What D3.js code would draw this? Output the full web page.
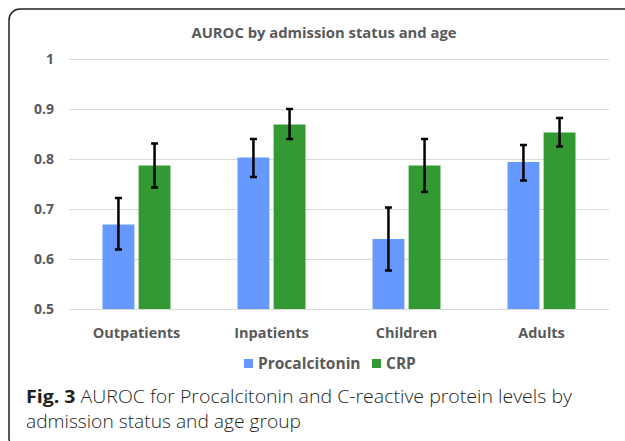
<!DOCTYPE html>
<html>
<head>
<meta charset="utf-8">
<script src="https://cdn.jsdelivr.net/npm/d3@7"></script>
<style>
  body { margin: 0; background: #fff; }
  svg text { font-family: "Open Sans", sans-serif; }
</style>
</head>
<body>
<svg id="chart" width="625" height="441"></svg>
<script>
const categories = ["Outpatients", "Inpatients", "Children", "Adults"];
const seriesNames = ["Procalcitonin", "CRP"];
const seriesColors = ["#6699ff", "#339933"];
const pctValues = [0.669, 0.803, 0.640, 0.794];
const pctLow = [0.619, 0.764, 0.577, 0.757];
const pctHigh = [0.722, 0.840, 0.703, 0.828];
const crpValues = [0.787, 0.869, 0.787, 0.853];
const crpLow = [0.743, 0.840, 0.734, 0.825];
const crpHigh = [0.831, 0.900, 0.840, 0.882];
const yTicks = [0.5, 0.6, 0.7, 0.8, 0.9, 1];
const yTickLabels = ["0.5", "0.6", "0.7", "0.8", "0.9", "1"];

const svg = d3.select("#chart");
const grey = "#595959";

// outer rounded frame (right side runs off the page)
svg.append("rect")
    .attr("x", 9).attr("y", 9)
    .attr("width", 700).attr("height", 440)
    .attr("rx", 11)
    .attr("fill", "none")
    .attr("stroke", "#222")
    .attr("stroke-width", 1.5);

const x0 = d3.scaleBand().domain(categories).range([69, 609]);
const x1 = d3.scaleBand().domain(seriesNames).range([0, 68]).paddingInner(8 / 68);
const y = d3.scaleLinear().domain([0.5, 1]).range([309, 59]);

// gridlines
svg.append("g").selectAll("line")
    .data(yTicks)
    .join("line")
    .attr("x1", 69).attr("x2", 609)
    .attr("y1", d => Math.round(y(d)) + 0.5)
    .attr("y2", d => Math.round(y(d)) + 0.5)
    .attr("stroke", "#d9d9d9")
    .attr("stroke-width", 1);

// y labels
svg.append("g").selectAll("text")
    .data(yTicks)
    .join("text")
    .attr("x", 54)
    .attr("y", d => y(d) + 5)
    .attr("text-anchor", "end")
    .attr("fill", grey)
    .attr("font-weight", 700)
    .attr("font-size", 14)
    .text((d, i) => yTickLabels[i]);

const rows = categories.map((c, i) => ({
    cat: c,
    bars: [
        { s: seriesNames[0], v: pctValues[i], lo: pctLow[i], hi: pctHigh[i] },
        { s: seriesNames[1], v: crpValues[i], lo: crpLow[i], hi: crpHigh[i] }
    ]
}));

const groups = svg.append("g").selectAll("g")
    .data(rows)
    .join("g")
    .attr("transform", d => `translate(${x0(d.cat) + (x0.bandwidth() - 68) / 2},0)`);

groups.selectAll("rect")
    .data(d => d.bars)
    .join("rect")
    .attr("x", d => x1(d.s))
    .attr("width", x1.bandwidth())
    .attr("y", d => y(d.v))
    .attr("height", d => y(0.5) - y(d.v))
    .attr("fill", (d, i) => seriesColors[i]);

// error bars
const err = groups.selectAll("g.err")
    .data(d => d.bars)
    .join("g")
    .attr("class", "err")
    .attr("transform", d => `translate(${x1(d.s) + x1.bandwidth() / 2},0)`);

err.append("line")
    .attr("y1", d => y(d.lo)).attr("y2", d => y(d.hi))
    .attr("stroke", "#000").attr("stroke-width", 2.5);
err.selectAll("line.cap")
    .data(d => [d.lo, d.hi])
    .join("line")
    .attr("class", "cap")
    .attr("x1", -3.5).attr("x2", 3.5)
    .attr("y1", d => y(d)).attr("y2", d => y(d))
    .attr("stroke", "#000").attr("stroke-width", 2.5);

// category labels
svg.append("g").selectAll("text")
    .data(categories)
    .join("text")
    .attr("x", d => x0(d) + x0.bandwidth() / 2)
    .attr("y", 338)
    .attr("text-anchor", "middle")
    .attr("fill", grey)
    .attr("font-weight", 700)
    .attr("font-size", 14.5)
    .text(d => d);

// title
svg.append("text")
    .attr("x", 324).attr("y", 38)
    .attr("text-anchor", "middle")
    .attr("fill", grey)
    .attr("font-weight", 700)
    .attr("font-size", 14.8)
    .text("AUROC by admission status and age");

// legend
const legendX = [244, 372];
const leg = svg.append("g").selectAll("g")
    .data(seriesNames)
    .join("g")
    .attr("transform", (d, i) => `translate(${legendX[i]},359)`);
leg.append("rect")
    .attr("width", 9).attr("height", 9)
    .attr("fill", (d, i) => seriesColors[i]);
leg.append("text")
    .attr("x", 14).attr("y", 10)
    .attr("fill", grey)
    .attr("font-weight", 700)
    .attr("font-size", 15.5)
    .text(d => d);

// figure caption
const cap1 = svg.append("text")
    .attr("x", 26).attr("y", 403)
    .attr("fill", "#231f20")
    .attr("font-size", 18)
    .attr("textLength", 546)
    .attr("lengthAdjust", "spacingAndGlyphs");
cap1.append("tspan").attr("font-weight", 700).text("Fig. 3");
cap1.append("tspan").attr("font-weight", 300).text(" AUROC for Procalcitonin and C-reactive protein levels by");

svg.append("text")
    .attr("x", 26).attr("y", 428)
    .attr("fill", "#231f20")
    .attr("font-size", 18)
    .attr("font-weight", 300)
    .attr("textLength", 275)
    .attr("lengthAdjust", "spacingAndGlyphs")
    .text("admission status and age group");
</script>
</body>
</html>
